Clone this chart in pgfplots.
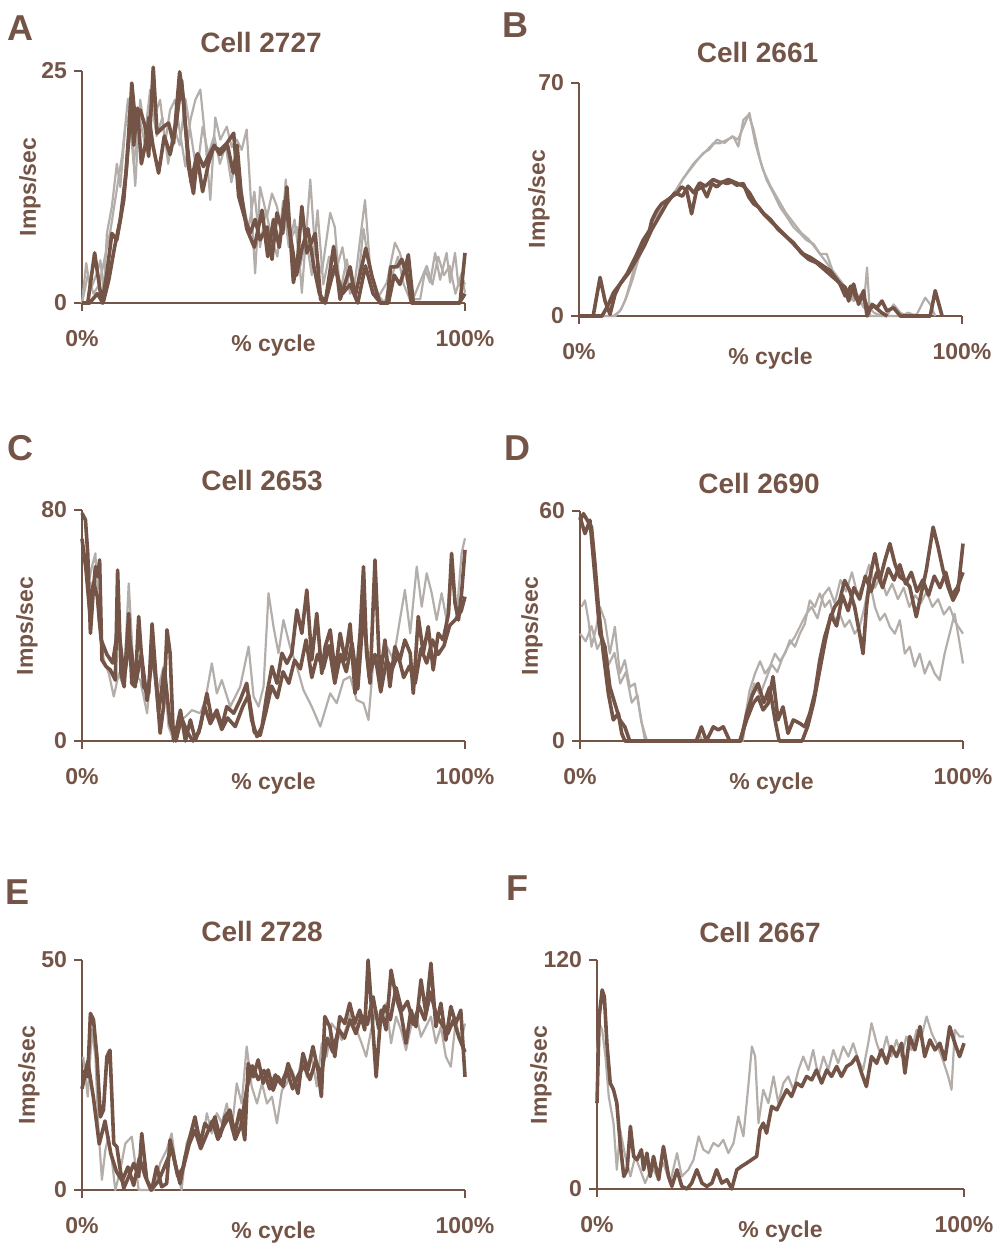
\documentclass[border=0pt]{standalone}
\usepackage{fontspec}
\setmainfont{Liberation Sans}
\usepackage{pgfplots}
\pgfplotsset{compat=1.18}
\definecolor{brn}{RGB}{116,84,70}
\definecolor{lgr}{RGB}{180,174,170}
\newcommand{\tf}{\fontsize{11.5}{13}\selectfont\bfseries}
\pgfplotsset{
  cellax/.style={
    scale only axis, width=191.5pt,
    axis x line*=bottom, axis y line*=left,
    axis line style={brn, line width=1.4pt},
    tick style={brn, line width=1.4pt},
    major tick length=4pt, tick align=outside,
    xmin=0, xmax=100, ymin=0,
    xtick={0,100}, xticklabels={0\%,100\%},
    ticklabel style={font=\tf, text=brn},
    xticklabel style={anchor=center, yshift=-14pt},
    xlabel={\% cycle},
    xlabel style={font=\tf, text=brn, at={(axis description cs:0.5,0)}, anchor=center, yshift=-21.5pt},
    clip=false,
  },
  dk/.style={brn, line width=1.8pt, line join=round},
  lt/.style={lgr, line width=1.1pt, line join=round},
}
\begin{document}
\begin{tikzpicture}
\useasboundingbox (0,0) rectangle (499.5pt,-623pt);

% ---- A: Cell 2727
\begin{axis}[cellax, at={(41pt,-151.5pt)}, anchor=south west, height=116pt,
  ymax=25, ytick={0,25}, yticklabels={0,25}]
\addplot[lt] coordinates {(0,0) (1.1,4.3) (2.2,1.4) (3.9,3.2) (4.8,4.6) (5.7,1.1) (6.5,7.5) (7.8,10.4) (9.1,15) (10,12.5) (11.3,19) (12.6,20.8) (13.9,12.6) (15.2,21.9) (16.5,18.3) (17.8,23) (19.1,20.4) (20.4,21.9) (21.7,17.2) (23,20.8) (24.3,21.9) (25.6,18.3) (27,14.7) (28.3,19.7) (29.6,21.9) (30.9,23) (32.2,17.6) (33.5,11.1) (34.8,20) (36.1,17.6) (37.8,19) (39.1,16.8) (40.4,17.6) (41.7,16.5) (43,18.7) (44.3,9.7) (45.2,3.2) (46.5,12.5) (48.3,9.3) (49.6,11.8) (50.9,10.4) (52.2,7.5) (53.2,13.3) (54.3,6.8) (56.1,8.2) (57.4,1.1) (59.6,13.3) (60.9,5.4) (62.6,3.2) (64.8,9.7) (66,8.2) (67.4,1.1) (69.1,4.7) (70.9,1.1) (72.6,6.8) (73.9,11.1) (75.2,3.9) (77,0.4) (79.6,2.2) (81.7,6.5) (83,5.4) (85.2,1.8) (86.5,0.4) (88.3,0.4) (89.6,3.6) (90.9,2.2) (92.2,5.4) (93.5,2.5) (95.2,5.4) (96.1,2.2) (97.4,5.4) (98.3,1.8) (99.1,3.2) (100,1.1)};
\addplot[lt] coordinates {(0,0) (1.5,3) (3,1) (4.5,2) (6,5) (7.5,8) (9,12) (10.5,16) (12,22) (13.5,15) (15,20) (16.5,17) (18,22) (19.5,18) (21,20) (22.5,15) (24,19) (25.5,17) (27,22) (28.5,18) (30,14) (31.5,19) (33,16) (34.5,18) (36,15) (37.5,17) (39,13) (40.5,16) (42,11) (43.5,8) (45,12) (46.5,6) (48,10) (49.5,7) (51,5) (52.5,11) (54,6) (55.5,9) (57,4) (58.5,7) (60,3) (61.5,10) (63,2) (64.5,5) (66,3) (68,6) (70,1) (72,2) (73.5,8) (75,4) (77,1) (79,0) (81,3) (82.5,5) (84,2) (86,0) (88,2) (90,4) (91.5,2) (93,5) (94.5,3) (96,4) (97.5,1) (99,3) (100,2)};
\addplot[dk] coordinates {(0,0) (2,0) (4,1) (5.5,0) (7,2.5) (8.5,6) (10,9) (11.5,14) (12.8,22) (13.5,17) (14.5,21) (15.5,15) (16.5,17) (17.5,20) (18.5,17) (20,14) (21.5,18) (23,16) (24.5,19) (26,24) (27,19) (28.5,13) (30,16) (31.5,12) (33,15) (34.5,17) (36,16) (38,17) (39.5,14) (40.5,17) (41.5,12) (43,8) (45,6) (47,10) (48.5,5) (50,9) (51.5,6) (53,11) (54.5,7) (56,3) (57.5,6) (59,8) (60.5,4) (62,1) (63.5,0) (66,4) (68,1) (70,2) (72,0) (74,4) (76,1) (78,0) (80,0) (81.5,3) (83,2) (84.5,4) (86,0) (98.5,0) (100,1)};
\addplot[dk] coordinates {(0,0) (1.5,0) (3.3,5.4) (5.2,0) (6.5,3.2) (7.8,7.5) (9.1,6.8) (10.9,11.1) (12.2,17.6) (13,23.7) (13.9,19.7) (15.2,20.8) (16.5,19) (17.4,15.8) (18.6,25.4) (19.6,18.3) (21.3,19) (22.6,19.4) (23.9,17.2) (25.5,24.9) (26.5,21.9) (27.8,14.7) (29.1,11.8) (30.2,16.1) (31.7,14.7) (33,15.8) (34.3,16.8) (36.1,16.5) (37.8,17.2) (39.6,18.3) (40.9,11.5) (42.6,9) (43.9,7.5) (45.2,9) (46.5,6.8) (48.3,8.2) (49.6,4.7) (50.9,9.7) (52.4,7.5) (53.5,12.5) (55.2,2.2) (56.3,4.7) (57.4,10.4) (58.7,5.4) (60.9,7.5) (62.3,0.4) (63.5,0) (65.7,6.1) (67.4,0.4) (70,3.9) (71.3,0.7) (74.1,5.9) (75.7,2.9) (77.8,0) (79.6,0) (80.6,3.9) (82.3,3.9) (83.5,4.7) (84.3,3.6) (85.2,5.2) (86.5,0) (98.7,0) (100,5.4)};
\end{axis}

% ---- B: Cell 2661
\begin{axis}[cellax, at={(289.5pt,-158pt)}, anchor=south west, height=116.5pt,
  ymax=70, ytick={0,70}, yticklabels={0,70}]
\addplot[lt] coordinates {(0,0) (9,0) (10.7,1.5) (12,4.5) (13.3,9.6) (14.6,15.6) (15.9,20.6) (17.7,24.7) (19.4,28.7) (21.2,31.7) (22.9,33.7) (24.7,36.8) (26.4,39.8) (28.1,42.8) (29.9,45.8) (31.6,47.8) (33.4,49.8) (35.1,51.9) (36.8,51.9) (38.6,52.9) (40.3,53.9) (41.6,50.9) (42.9,58.9) (44.3,60.4) (45.6,55.9) (47.3,46.8) (49,40.8) (50.8,36.8) (52.5,32.7) (54.3,29.7) (56,26.7) (57.8,24.7) (59.5,22.7) (61.2,21.7) (63,18.6) (64.7,18.6) (66.5,12.6) (68.2,9.6) (69.9,6.5) (71.7,4.5) (73,5.5) (74.3,2.5) (75.2,14.6) (76,0) (80.4,0) (82.1,3.5) (83.9,1) (85.6,0) (88.2,0.5) (90.4,5.5) (91.7,3.5) (93,0)};
\addplot[lt] coordinates {(0,0) (9.5,0) (11,2) (12.5,6) (14,11) (15.5,17) (17,21) (19,26) (21,30) (23,34) (25,37) (27,41) (29,44) (31,47) (32.5,49) (34,50) (36,53) (38,52) (40,54) (41.5,53) (43,57) (44.5,61) (46,52) (48,44) (50,39) (52,35) (54,31) (56,28) (58,25) (60,23) (62,20) (64,17) (66,14) (68,11) (70,8) (72,5) (74,7) (75.5,3) (77,1) (79,0) (84,0) (86,1) (88,0)};
\addplot[dk] coordinates {(0,0) (6,0) (7.5,3) (9,7) (11,10) (13,13) (15,17) (17,21) (19,26) (21,30) (23,34) (25,37) (27,36) (28.5,39) (30,37) (31.5,40) (33,39) (35,41) (37,40) (39,41) (41,40) (43,39) (44.5,37) (46,34) (48,31) (50,29) (52,26) (54,24) (56,22) (58,19) (60,17) (62,16) (64,14) (66,12) (68,10) (69.5,6) (71,9) (72.5,5) (74,6) (75.5,2) (77,3) (79,1) (80.5,0)};
\addplot[dk] coordinates {(0,0) (3.7,0) (5.5,11.6) (6.8,4.5) (8.1,0.5) (9.4,6.5) (10.7,9.6) (12.5,12.6) (13.8,15.6) (15.1,18.6) (16.7,22.7) (18.4,25.7) (19,28.7) (20.3,31.7) (21.6,33.7) (22.9,34.7) (24.2,35.8) (25.5,36.8) (26.8,38.8) (28.1,37.8) (29.4,30.7) (30.7,37.8) (32.1,38.8) (33.4,35.8) (34.7,39.8) (36,38.8) (37.3,40.3) (38.6,39.8) (39.9,40.3) (41.2,39.3) (42.9,39.8) (44.3,35.8) (45.6,33.7) (46.9,32.7) (48.2,30.7) (49.9,28.7) (51.7,26.7) (53.4,24.7) (55.1,22.7) (56.9,20.6) (58.6,18.6) (60.4,17.6) (61.7,16.6) (63,15.6) (64.3,14.6) (65.6,13.6) (66.9,11.6) (68.2,9.6) (69.5,8.6) (70.4,4.5) (71.7,9.6) (73,3.5) (74.3,7.6) (75.2,0) (76.5,3.5) (77.8,2.5) (79.1,4.5) (80.4,1.5) (82.1,2.5) (83.9,0) (91.7,0) (93,7.6) (94.8,0)};
\end{axis}

% ---- C: Cell 2653
\begin{axis}[cellax, at={(41pt,-370.5pt)}, anchor=south west, height=115.5pt,
  ymax=80, ytick={0,80}, yticklabels={0,80}]
\addplot[lt] coordinates {(0.4,65) (1.5,53.5) (2.6,60.4) (3.5,65) (4.3,41.9) (5.7,28.1) (7,23.4) (8.3,15.4) (9.6,23.4) (10.9,18.8) (12.2,54.6) (13.5,23.4) (15.2,21.1) (17,9.6) (18.3,28.1) (19.6,16.5) (21.3,25.8) (22.6,5) (23.9,0.3) (25.7,7.3) (27,8.4) (28.7,10.7) (30.9,9.6) (32.2,14.2) (33.9,26.9) (35.2,16.5) (36.5,21.1) (38.7,11.9) (41.3,18.8) (43.5,32.7) (44.8,15.4) (46.1,11.9) (47.4,18.8) (48.7,51.2) (50,39.6) (51.3,30.4) (52.6,41.9) (54.3,32.7) (56.1,25.8) (57.8,17.7) (60,11.9) (62.2,5) (63.5,10.7) (64.8,16.5) (66.5,13.1) (68.3,21.1) (70,22.3) (71.7,14.2) (73.5,13.1) (74.8,7.3) (76.1,28.1) (77.8,28.1) (79.6,32.7) (81.3,28.1) (83,41.9) (84.3,52.3) (85.7,37.3) (87.4,60.4) (88.7,46.5) (90,58.1) (91.3,51.2) (92.6,41.9) (93.9,51.2) (95.2,41.9) (96.5,62.7) (97.8,43.1) (99.1,65) (100,70.2)};
\addplot[dk] coordinates {(0,70) (1,60) (2,45) (3,55) (4,50) (5,35) (6.5,30) (8,27) (9.5,40) (11,22) (12.5,35) (14,20) (15.5,30) (17,14) (18.5,32) (20,10) (21.5,25) (23,6) (24.5,0) (26,8) (27.5,3) (29,0) (30.5,3) (32,12) (33.5,6) (35,10) (36.5,4) (38,8) (40,5) (42,12) (43.5,16) (45,3) (46.5,2) (48,10) (49.5,19) (51,15) (52.5,24) (54,20) (55.5,28) (57,25) (58.5,35) (60,22) (61.5,30) (63,25) (64.5,33) (66,20) (67.5,30) (69,24) (70.5,34) (72,18) (73.5,45) (75,22) (76.5,30) (78,17) (79.5,28) (81,25) (82.5,30) (84,22) (85.5,26) (87,20) (88.5,32) (90,27) (91.5,35) (93,30) (94.5,33) (96,40) (97.5,42) (99,45) (100,50)};
\addplot[dk] coordinates {(0,78.9) (0.9,76.6) (1.5,65) (2.2,37.3) (2.9,51.2) (3.5,60.4) (4.1,56.9) (4.6,62.7) (5.2,28.1) (6.3,25.8) (7.4,24.6) (8.7,21.1) (9.3,59.2) (10.2,23.4) (11,18.8) (12.2,44.2) (13,20) (13.9,18.8) (14.8,43.1) (16.1,18.8) (17.4,16.5) (18.3,40.6) (19.1,25.8) (20.4,2.7) (21.3,11.9) (22.2,38.5) (23,30.4) (23.9,0) (24.8,5) (25.7,10.7) (27,0) (28.3,7.3) (29.6,0.3) (30.9,5) (32.6,16.5) (33.9,7.3) (35.2,10.7) (36.5,5) (37.8,11.9) (39.6,9.6) (41.3,14.2) (43,20) (44.3,7.3) (45.7,1.5) (47,5) (48.3,16.5) (49.6,25.8) (50.9,20) (52.2,30.4) (53.5,26.9) (54.8,30.4) (56.1,45.4) (57.4,37.3) (58.7,52.3) (60,28.1) (61.3,44.2) (62.6,23.4) (63.5,32.7) (64.8,38.5) (66.1,23.4) (67.4,37.3) (68.7,28.1) (70,40.6) (71.3,16.5) (72.6,37.3) (73.5,60.4) (74.3,30.4) (75.2,20) (76.5,62.7) (77.8,21.1) (79.1,35) (80.4,18.8) (81.7,32.7) (83,28.1) (84.3,35) (85.7,30.4) (86.5,16.5) (87.8,43.1) (89.1,30.4) (90.4,39.6) (91.7,24.6) (93,37.3) (94.3,35) (95.7,44.2) (96.5,65) (97.4,47.7) (98.3,41.9) (99.1,51.2) (100,66.2)};
\end{axis}

% ---- D: Cell 2690
\begin{axis}[cellax, at={(290pt,-370.5pt)}, anchor=south west, height=115pt,
  ymax=60, ytick={0,60}, yticklabels={0,60}]
\addplot[lt] coordinates {(0.4,35) (1.3,36.7) (2.2,31.5) (3,24.6) (4.3,29.8) (5.2,35) (6.5,31.5) (7.8,22.8) (9.1,29.8) (10.4,17.6) (11.7,21.1) (13,14.1) (14.3,15) (15.7,7.2) (17,0) (41.7,0) (43,5.5) (44.3,13.3) (45.7,17.6) (47,20.8) (48.3,17.6) (49.6,19.4) (50.9,22.8) (52.2,20.8) (53.5,22.8) (54.8,26.3) (56.1,24.6) (57.4,28) (58.7,30.6) (60,36.7) (61.3,35) (62.6,38.5) (63.9,35) (65.2,36.7) (66.5,31.5) (67.8,33.2) (69.1,29.8) (70.4,31.5) (71.7,28) (73,29.8) (74.3,35) (75.6,41.9) (77,35) (78.3,31.5) (79.6,33.2) (80.9,29.8) (82.2,28) (83.5,31.5) (84.8,22.8) (86.1,24.6) (87.4,19.4) (88.7,22.8) (90,17.6) (91.3,20.8) (92.6,17.6) (93.9,15.9) (95.2,22.8) (96.5,28) (97.8,33.2) (98.7,28) (100,20.2)};
\addplot[lt] coordinates {(0,28) (1.5,26) (3,30) (4.5,24) (6,27) (7.5,20) (9,23) (10.5,15) (12,18) (13.5,10) (15,12) (16,5) (17.5,0) (30,0) (31,2) (32,0) (42.5,0) (44,10) (45.5,15) (47,12) (48.5,16) (50,20) (51.5,18) (53,22) (54.5,25) (56,27) (57.5,30) (59,33) (60.5,35) (62,32) (63.5,38) (65,40) (66.5,36) (68,42) (69.5,39) (71,44) (72.5,38) (74,41) (75.5,46) (77,40) (78.5,43) (80,38) (81.5,41) (83,37) (84.5,40) (86,35) (87.5,38) (89,36) (90.5,39) (92,35) (93.5,37) (95,33) (96.5,35) (98,31) (100,28)};
\addplot[dk] coordinates {(0,58.4) (1.3,54.1) (2.6,57.6) (3.9,42.8) (5.2,28) (6.5,24.6) (7.8,14.1) (9.1,9.8) (10.4,5.5) (11.7,3.7) (13,0) (42,0) (43.5,7) (45,12) (46.5,15) (48,10) (49.5,14) (51,5) (52,0) (58,0) (59.5,4) (61,10) (62.5,18) (64,26) (65.5,33) (67,30) (68.5,38) (70,34) (71.5,40) (73,37) (74.5,43) (76,39) (77.5,44) (79,40) (80.5,45) (82,42) (83.5,46) (85,41) (86.5,44) (88,39) (89.5,42) (91,38) (92.5,43) (94,40) (95.5,44) (97,38) (98.5,40) (100,44)};
\addplot[dk] coordinates {(0,57.6) (0.9,59.3) (1.9,57.6) (3,55.8) (3.9,46.3) (4.8,35) (6.1,22.8) (7.4,12.4) (8.7,5.5) (10,7.2) (10.9,2) (11.7,0) (30.4,0) (31.7,3.7) (33,0) (34.8,3.7) (36.1,2.9) (37.4,3.7) (39.1,0) (41.7,0) (43.5,5.5) (45.2,9.8) (46.5,11.5) (47.8,8.1) (49.1,9.8) (50.4,16.8) (51.7,5.5) (53,8.9) (54.3,2) (55.7,5.5) (57.4,4.6) (58.7,3.7) (60,7.2) (61.3,12.4) (62.6,21.1) (63.9,27.2) (65.2,31.5) (66.5,35) (67.8,36.7) (69.1,41.9) (70.4,39.3) (71.7,35) (73,28) (73.9,22.8) (74.8,35) (75.7,42.8) (77,48.9) (78.3,42) (79.6,47.1) (80.9,51.5) (82.2,46.3) (83.5,42.8) (84.8,41.9) (86.1,40.2) (87.8,32.4) (89.1,38.5) (90.4,44.5) (92.2,55.8) (93.5,50.6) (94.8,44.5) (96.1,40.2) (97.4,36.7) (98.7,39.3) (100,51.5)};
\end{axis}

% ---- E: Cell 2728
\begin{axis}[cellax, at={(41pt,-595pt)}, anchor=south west, height=115pt,
  ymax=50, ytick={0,50}, yticklabels={0,50}]
\addplot[lt] coordinates {(0.3,29) (1.5,20.3) (2.6,34.8) (3.5,29) (4.3,13) (5.2,2.2) (6.1,8.7) (6.9,11.6) (7.8,6.5) (8.7,0) (10,4.3) (11.3,10.1) (13,11.6) (14.8,0) (18.7,0) (20.4,5.8) (22.1,8.7) (23.4,12.3) (24.7,4.3) (26,0) (27.3,10.1) (28.6,13) (29.9,14.5) (31.3,10.1) (32.6,16.7) (33.9,12.3) (35.2,16.7) (36.5,14.5) (37.8,18.8) (39.1,13) (40.4,23.2) (41.7,18.8) (43,31.2) (44.3,22.5) (45.7,18.8) (47,23.2) (48.3,18.8) (49.6,20.3) (50.9,14.5) (52.2,21.7) (53.5,23.2) (54.8,26.1) (56.1,23.2) (57.4,29) (58.7,24.6) (60,29) (61.3,22.5) (62.6,31.9) (63.9,29) (65.2,36.2) (66.5,34.8) (67.8,32.6) (69.1,35.5) (70.4,39.1) (71.7,34.8) (73,31.9) (74.2,29) (75.5,34.8) (76.8,39.1) (78.1,36.2) (79.4,40.6) (80.7,31.9) (82,37.7) (83.3,34.8) (84.6,30.4) (85.9,35.5) (87.2,38.4) (88.5,33.3) (89.8,35.5) (91.1,37.7) (92.4,31.9) (93.7,35.5) (95,29) (96.3,26.8) (97.6,37) (98.9,31.9) (100,36.2)};
\addplot[dk] coordinates {(0,22) (1.5,28) (3,20) (4.5,10) (6,15) (7.5,8) (9,4) (10.5,2) (12,5) (13.5,1) (15,7) (16.5,3) (18,0) (20,2) (22,6) (23.5,9) (25,3) (26.5,5) (28,10) (29.5,13) (31,9) (32.5,12) (34,15) (35.5,11) (37,14) (38.5,16) (40,11) (41.5,14) (43,22) (44.5,27) (46,24) (47.5,26) (49,22) (50.5,25) (52,23) (53.5,26) (55,22) (56.5,25) (58,27) (59.5,24) (61,28) (62.5,25) (64,33) (65.5,30) (67,35) (68.5,33) (70,37) (71.5,34) (73,38) (74.5,36) (76,42) (77.5,35) (79,40) (80.5,37) (82,44) (83.5,39) (85,41) (86.5,36) (88,40) (89.5,37) (91,43) (92.5,38) (94,36) (95.5,34) (97,37) (98.5,33) (100,30)};
\addplot[dk] coordinates {(0.4,26.1) (1.5,24.6) (2.2,38.4) (3,37) (3.9,29) (4.8,15.9) (5.6,17.4) (6.5,29) (7.3,30.4) (8.3,10.1) (9.1,9.4) (10,4.3) (10.9,0.4) (12.2,2.9) (13.5,5.8) (14.8,2.9) (15.6,12.3) (16.9,2.2) (18.2,0) (19.5,5.1) (20.8,0.7) (22.1,1.4) (23,10.9) (24.3,5.8) (25.6,1.4) (26.9,7.2) (28.2,11.6) (29.5,15.9) (30.8,10.1) (32.1,14.5) (33.4,13) (34.7,15.9) (36,11.6) (37.3,15.9) (38.6,17.4) (39.9,12.3) (41.2,17.4) (42.5,10.9) (43.4,27.5) (44.7,24.6) (46,28.3) (47.3,23.2) (48.6,26.1) (49.9,21.7) (51.2,24.6) (52.5,22.5) (53.8,27.5) (55.1,24.6) (56.4,21) (57.7,29.7) (59,26.1) (60.3,31.2) (61.6,26.1) (62.5,20.3) (63.4,37.7) (64.7,35.5) (66,29) (67.3,37.7) (68.6,36.2) (69.9,40.6) (71.2,36.2) (72.5,39.1) (73.8,34.8) (74.7,50) (75.5,40.6) (76.8,24.6) (78.1,39.1) (79.4,34.8) (80.7,47.8) (82,42) (83.3,38.4) (84.6,31.9) (85.9,39.1) (87.2,35.5) (88.5,45.7) (89.8,38.4) (91.1,49.3) (92.4,35.5) (93.7,40.6) (95,32.6) (96.3,39.9) (97.6,36.2) (98.9,39.1) (100,24.6)};
\end{axis}

% ---- F: Cell 2667
\begin{axis}[cellax, at={(298.5pt,-594.5pt)}, anchor=south west, width=183.5pt, height=114.5pt,
  ymax=120, ytick={0,120}, yticklabels={0,120}]
\addplot[lt] coordinates {(0,71.2) (0.6,86.9) (1.4,83.4) (2.3,69.4) (3.2,48.5) (4.5,34.5) (5.4,10.1) (6.3,31) (7.7,17.1) (9.1,6.6) (10.4,17.1) (11.8,10.1) (13.1,3.1) (15,11.9) (16.3,6.6) (18.1,13.6) (19.9,3.1) (21.8,18.8) (23.1,6.6) (24.9,10.1) (26.3,15.3) (27.7,27.6) (29,20.6) (30.4,18.8) (31.7,24.1) (33.1,22.3) (34.4,25.8) (35.8,18.8) (37.2,24.1) (38.5,38) (39.9,27.6) (41.3,55.5) (42.2,74.7) (43.1,69.4) (44,34.5) (45.3,52) (46.7,45) (48.1,59) (49.4,45) (50.8,55.5) (52.1,59) (53.5,52) (54.9,62.4) (56.2,69.4) (57.6,62.4) (58.9,72.9) (60.3,59) (61.7,69.4) (63,62.4) (64.4,72.9) (65.7,65.9) (67.1,74.7) (68.5,69.4) (69.8,76.4) (71.2,67.7) (72.5,62.4) (73.9,76.4) (74.8,86.9) (76.2,76.4) (77.5,69.4) (78.9,79.9) (80.2,69.4) (81.6,78.1) (83,69.4) (84.3,79.9) (85.7,72.9) (87.1,83.4) (88.4,79.9) (89.8,90.4) (91.2,81.6) (92.5,76.4) (93.9,69.4) (95.7,59) (96.6,52) (97.5,83.4) (98.8,79.9) (100,79.9)};
\addplot[dk] coordinates {(0,45) (0.6,90.4) (1.4,104.3) (2,100.8) (2.7,76.4) (3.6,55.5) (4.5,52) (5.4,45) (6.3,24.1) (7.3,6.6) (8.2,10.1) (9.1,32.8) (10,17.1) (10.9,15.3) (12.1,20.6) (12.7,10.1) (13.6,18.8) (14.5,6.6) (15.4,17.1) (16.8,4.9) (18.1,22.3) (19.5,6.6) (20.4,1.4) (21.8,10.1) (23.1,1.4) (24.5,0) (25.8,3.1) (27.2,10.1) (28.6,3.1) (29.9,1.4) (31.3,3.1) (32.6,10.1) (34,3.1) (35.4,4.9) (36.7,0) (38.1,10.1) (39.4,11.9) (40.8,13.6) (42.1,15.3) (43.5,17.1) (44.4,31) (45.3,34.5) (46.2,29.3) (47.6,43.3) (49,41.5) (50.3,46.7) (51.7,52) (53,48.5) (54.4,55.5) (55.8,53.7) (57.1,59) (58.5,57.2) (59.8,62.4) (61.2,55.5) (62.6,62.4) (63.9,59) (65.3,64.2) (66.6,59) (68,64.2) (69.4,65.9) (70.7,69.4) (72.1,60.7) (73.4,53.7) (74.8,69.4) (76.2,65.9) (77.5,72.9) (78.9,65.9) (80.2,74.7) (81.6,69.4) (83,76.4) (83.9,60.7) (85.2,79.9) (86.6,72.9) (88,85.1) (89.3,69.4) (90.7,78.1) (92.1,72.9) (93.4,76.4) (94.8,67.7) (96.1,85.1) (97.5,76.4) (98.8,69.4) (100,76.4)};
\end{axis}

% panel letters, titles and y labels
\tikzset{lab/.style={text=brn, font=\fontsize{18}{21}\selectfont\bfseries},
  ttl/.style={text=brn, font=\fontsize{14}{16}\selectfont\bfseries},
  yl/.style={text=brn, font=\tf, rotate=90}}
\node[lab] at (10pt,-14pt) {A};
\node[lab] at (257.5pt,-12.5pt) {B};
\node[lab] at (10pt,-224pt) {C};
\node[lab] at (258.5pt,-224pt) {D};
\node[lab] at (9pt,-446pt) {E};
\node[lab] at (258.5pt,-444pt) {F};
\node[ttl] at (130.5pt,-21pt) {Cell 2727};
\node[ttl] at (378.75pt,-26pt) {Cell 2661};
\node[ttl] at (131pt,-240.5pt) {Cell 2653};
\node[ttl] at (379.5pt,-241.5pt) {Cell 2690};
\node[ttl] at (131pt,-465.5pt) {Cell 2728};
\node[ttl] at (380pt,-466pt) {Cell 2667};
\node[yl] at (15pt,-93.5pt) {Imps/sec};
\node[yl] at (269.5pt,-99.5pt) {Imps/sec};
\node[yl] at (13.5pt,-313pt) {Imps/sec};
\node[yl] at (266pt,-313pt) {Imps/sec};
\node[yl] at (14.5pt,-537.5pt) {Imps/sec};
\node[yl] at (270.5pt,-537.5pt) {Imps/sec};
\end{tikzpicture}
\end{document}
